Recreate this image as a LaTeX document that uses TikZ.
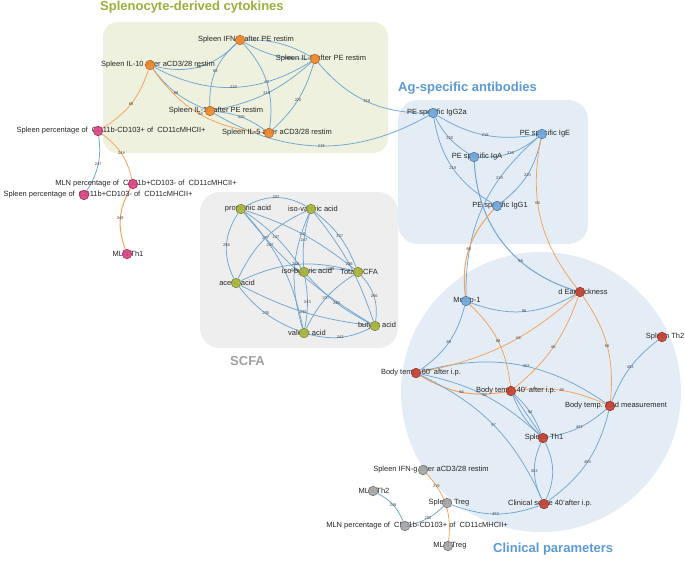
\documentclass[tikz,border=0pt]{standalone}
\usepackage{fontspec}
\setmainfont{Liberation Sans}
\usetikzlibrary{calc}
\definecolor{eblue}{HTML}{6FA6D3}
\definecolor{eorange}{HTML}{F4A25A}
\definecolor{ncyt}{HTML}{F0882A}
\definecolor{npink}{HTML}{D9427F}
\definecolor{nolive}{HTML}{A9B53A}
\definecolor{nblue}{HTML}{6FA8DC}
\definecolor{nred}{HTML}{C4402F}
\definecolor{ngrey}{HTML}{A6A6A6}
\definecolor{bgcyt}{HTML}{EEF1DE}
\definecolor{bgblue}{HTML}{E4EDF6}
\definecolor{bggrey}{HTML}{EEEEEE}
\definecolor{tolive}{HTML}{9BB03A}
\definecolor{tblue}{HTML}{5B9BD5}
\definecolor{tgrey}{HTML}{A0A0A0}
\pgfdeclarelayer{bg}\pgfdeclarelayer{edges}\pgfsetlayers{bg,edges,main}
\tikzset{
 vl/.style={bend left=#1}, vr/.style={bend right=#1},
 be/.style={draw=eblue, line width=0.75pt},
 oe/.style={draw=eorange, line width=0.75pt},
 el/.style={font=\fontsize{4}{4.5}\selectfont, inner sep=0.2pt, text=black!75},
 lab/.style={font=\fontsize{7.5}{8}\selectfont, inner sep=0pt, text=black!85},
 dot/.style={circle, minimum size=9.5pt, inner sep=0pt, line width=0.6pt, fill opacity=0.9},
 cyt/.style={dot, fill=ncyt, draw=ncyt!75!black},
 pnk/.style={dot, fill=npink, draw=npink!75!black},
 olv/.style={dot, fill=nolive, draw=nolive!75!black},
 abb/.style={dot, fill=nblue, draw=nblue!70!black},
 rdd/.style={dot, fill=nred, draw=nred!75!black},
 gry/.style={dot, fill=ngrey, draw=ngrey!70!black},
 ttl/.style={font=\fontsize{13}{14}\selectfont\bfseries, anchor=west, inner sep=0pt},
}
\newcommand\vnode[6]{\node[lab] (#2-t) at (#5,#4) {#6}; \node[#1] (#2) at (#3,#4) {};}
\begin{document}
\begin{tikzpicture}[x=1pt,y=-1pt]
\useasboundingbox (0,0) rectangle (685,560);
\begin{pgfonlayer}{bg}
\fill[white] (0,0) rectangle (685,560);
\fill[bgcyt, rounded corners=15pt] (103,22) rectangle (388,153);
\fill[bgblue, rounded corners=20pt] (398,100) rectangle (588,244);
\fill[bggrey, rounded corners=20pt] (200,192) rectangle (398,348);
\fill[bgblue] (541,392) circle (140);
\end{pgfonlayer}
\node[ttl, text=tolive] (t1) at (100,7) {Splenocyte-derived cytokines};
\node[ttl, text=tblue] (t2) at (398,88) {Ag-specific antibodies};
\node[ttl, text=tgrey] (t3) at (230,361) {SCFA};
\node[ttl, text=tblue] (t4) at (493,549) {Clinical parameters};
% cytokines
\vnode{cyt}{ifnpe}{240}{40}{246}{Spleen IFN-g after PE restim}
\vnode{cyt}{il5pe}{315}{59}{321}{Spleen IL-5 after PE restim}
\vnode{cyt}{il10a}{150}{65}{158}{Spleen IL-10 after aCD3/28 restim}
\vnode{cyt}{il10pe}{210}{111}{216}{Spleen IL-10 after PE restim}
\vnode{cyt}{il5a}{269}{133}{277}{Spleen IL-5 after aCD3/28 restim}
% pink
\vnode{pnk}{sp1}{98}{131}{111}{Spleen percentage of~ CD11b-CD103+ of~ CD11cMHCII+}
\vnode{pnk}{mln1}{133}{184}{146}{MLN percentage of~ CD11b+CD103- of~ CD11cMHCII+}
\vnode{pnk}{sp2}{84}{195}{98}{Spleen percentage of~ CD11b+CD103- of~ CD11cMHCII+}
\vnode{pnk}{mlnth1}{127}{254}{128}{MLN Th1}
% SCFA
\vnode{olv}{P}{241}{209}{248}{propionic acid}
\vnode{olv}{IV}{311}{209}{313}{iso-valeric acid}
\vnode{olv}{IB}{304}{272}{307}{iso-butyric acid}
\vnode{olv}{T}{358}{272}{359}{Total SCFA}
\vnode{olv}{A}{236}{283}{237}{acetic acid}
\vnode{olv}{V}{304}{333}{307}{valeric acid}
\vnode{olv}{B}{375}{326}{377}{butyric acid}
% antibodies
\vnode{abb}{igg2a}{433}{113}{437}{PE specific IgG2a}
\vnode{abb}{ige}{542}{134}{545}{PE specific IgE}
\vnode{abb}{iga}{474}{157}{477}{PE specific IgA}
\vnode{abb}{igg1}{497}{206}{500}{PE specific IgG1}
\vnode{abb}{mmcp}{466}{301}{467}{Mmcp-1}
% clinical
\vnode{rdd}{dear}{580}{292}{583}{d Earthickness}
\vnode{rdd}{th2}{662}{337}{665}{Spleen Th2}
\vnode{rdd}{bt60}{416}{373}{421}{Body temp. 60' after i.p.}
\vnode{rdd}{bt40}{511}{391}{516}{Body temp. 40' after i.p.}
\vnode{rdd}{btend}{610}{406}{616}{Body temp. End measurement}
\vnode{rdd}{th1}{543}{438}{544}{Spleen Th1}
\vnode{rdd}{cs}{544}{504}{550}{Clinical score 40'after i.p.}
% grey
\vnode{gry}{ifnga}{423}{470}{431}{Spleen IFN-g after aCD3/28 restim}
\vnode{gry}{mlnth2}{373}{491}{374}{MLN Th2}
\vnode{gry}{treg}{447}{503}{449}{Spleen Treg}
\vnode{gry}{mlnp}{405}{526}{417}{MLN percentage of~ CD11b-CD103+ of~ CD11cMHCII+}
\vnode{gry}{mlntreg}{448}{546}{450}{MLN Treg}
\begin{pgfonlayer}{edges}
% cytokine edges
\draw[be] (il10a) to[vr=30] node[el]{68} (ifnpe);
\draw[be] (ifnpe) to[vr=25] node[el]{69} (il10pe);
\draw[be] (ifnpe) to[vl=25] node[el]{68} (il5a);
\draw[be] (ifnpe) to[vl=15] (il5pe);
\draw[be] (ifnpe) to[vr=15] node[el,pos=0.7]{218} (il5pe);
\draw[be] (il10a) to[vr=30] node[el]{218} (il5pe);
\draw[be] (il5pe) to[vl=15] node[el]{219} (il10pe);
\draw[be] (il5pe) to[vl=15] node[el]{220} (il5a);
\draw[be] (il5pe) to[vr=25] node[el]{218} (igg2a);
\draw[be] (il10pe) to[vr=30] node[el]{219} (igg2a);
\draw[be] (il10pe) to[vl=15] node[el]{220} (il5a);
\draw[be] (il10a) to[vr=15] node[el]{68} (il10pe);
\draw[oe] (il10a) to[vr=25] node[el]{68} (il5a);
\draw[oe] (il10a) to[vl=20] node[el]{68} (sp1);
% left
\draw[be] (sp1) to[vl=20] node[el]{247} (sp2);
\draw[oe] (sp1) to[vl=20] node[el]{244} (mln1);
\draw[oe, line width=1pt] (mln1) to[vr=25] node[el]{248} (mlnth1);
% SCFA
\draw[be] (P) to[vl=30] node[el]{237} (IV);
\draw[be] (P) to[vr=30] node[el]{256} (A);
\draw[be] (IV) to[vr=20] node[el]{237} (A);
\draw[be] (P) to[vl=10] node[el]{247} (IB);
\draw[be] (P) to[vl=10] node[el]{243} (T);
\draw[be] (P) to[vr=10] node[el]{235} (B);
\draw[be] (P) to[vl=15] node[el,pos=0.3]{247} (V);
\draw[be] (IV) to[vl=15] node[el]{237} (T);
\draw[be] (IV) to[vr=10] node[el]{247} (IB);
\draw[be] (IV) to[vr=20] node[el]{243} (V);
\draw[be] (IV) to[vl=10] node[el]{236} (B);
\draw[be] (IB) to[vl=10] node[el]{239} (T);
\draw[be] (A) to[vl=20] node[el]{249} (T);
\draw[be] (A) to[vr=10] node[el]{235} (B);
\draw[be] (A) to[vr=15] node[el]{235} (V);
\draw[be] (T) to[vr=15] node[el]{237} (V);
\draw[be] (T) to[vl=25] node[el]{256} (B);
\draw[be] (IB) to[vr=10] node[el]{245} (B);
\draw[be] (IB) to[vl=10] node[el]{243} (V);
\draw[be] (V) to[vr=20] node[el]{243} (B);
% antibodies
\draw[be] (igg2a) to[vr=20] node[el]{218} (ige);
\draw[be] (igg2a) to[vr=15] node[el]{220} (iga);
\draw[be] (igg2a) to[vr=25] node[el]{219} (igg1);
\draw[be] (iga) to[vr=20] node[el]{219} (ige);
\draw[be] (ige) to[vl=20] node[el]{220} (igg1);
\draw[be] (ige) to[vr=25] node[el,pos=0.3]{219} (mmcp);
\draw[be, line width=1pt] (iga) to[vr=35] node[el,pos=0.65]{69} (dear);
\draw[oe, line width=1pt] (igg1) to[vr=25] node[el]{69} (mmcp);
\draw[oe] (ige) to[vr=25] node[el,pos=0.4]{66} (dear);
% clinical
\draw[be] (mmcp) to[vr=25] node[el]{95} (dear);
\draw[be] (mmcp) to[vl=20] node[el]{69} (bt60);
\draw[oe] (mmcp) to[vl=20] node[el]{68} (bt40);
\draw[oe, line width=1pt] (bt60) to[vr=20] node[el]{66} (bt40);
\draw[be] (bt60) to[vl=25] node[el,pos=0.55]{453} (btend);
\draw[oe] (bt60) to[vr=15] node[el,pos=0.6]{66} (dear);
\draw[be] (bt60) to[vl=15] node[el]{94} (th1);
\draw[be] (bt60) to[vl=20] node[el]{97} (cs);
\draw[oe] (bt40) to[vl=15] node[el]{68} (btend);
\draw[be] (bt40) to[vl=12] node[el]{94} (th1);
\draw[be] (bt40) to (th1);
\draw[be] (bt40) to[vr=12] (th1);
\draw[oe] (dear) to[vl=15] node[el]{66} (bt40);
\draw[oe] (dear) to[vl=20] node[el]{66} (btend);
\draw[be] (btend) to[vl=15] node[el]{453} (th2);
\draw[be] (btend) to[vl=15] node[el]{453} (th1);
\draw[be] (btend) to[vl=20] node[el]{453} (cs);
\draw[be] (th1) to[vr=25] node[el]{453} (cs);
\draw[be] (th1) to[vl=25] (cs);
\draw[be] (treg) to[vr=20] node[el]{453} (cs);
% bottom
\draw[oe] (ifnga) to[vl=25] node[el,pos=0.2]{219} (mlntreg);
\draw[be] (mlnth2) to[vl=20] node[el]{249} (mlnp);
\draw[be] (treg) to[vl=15] node[el]{255} (mlnp);
\end{pgfonlayer}
\end{tikzpicture}
\end{document}
